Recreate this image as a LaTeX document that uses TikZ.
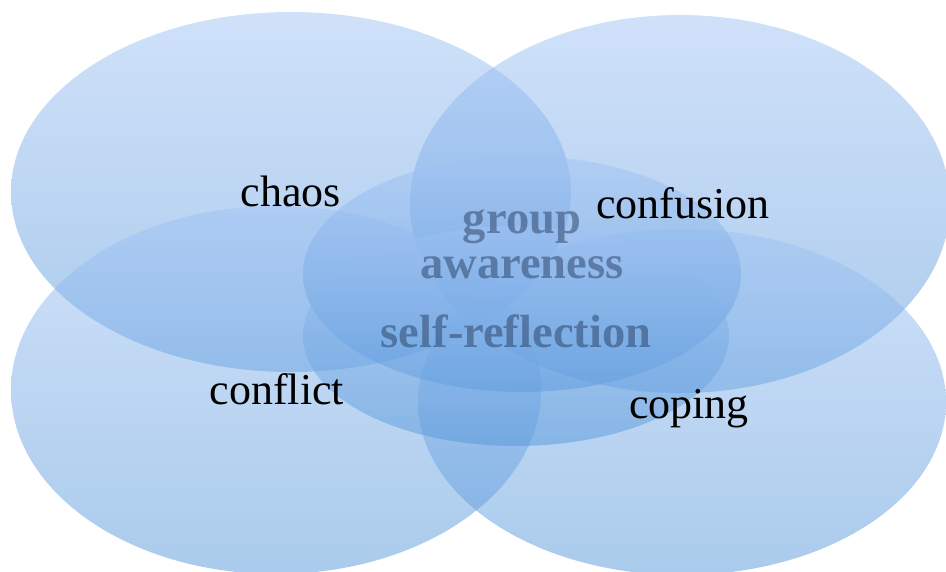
\documentclass[tikz,border=0pt]{standalone}
\usepackage{fontspec}
\setmainfont{Liberation Serif}
\definecolor{shtop}{RGB}{161,195,245}
\definecolor{shbot}{RGB}{85,151,217}
\definecolor{innertext}{RGB}{40,60,95}
\begin{document}
\begin{tikzpicture}[x=1pt,y=-1pt,
  bubble/.style={top color=shtop, bottom color=shbot, fill opacity=0.5, draw=none},
  outerlabel/.style={anchor=base, inner sep=0pt, font=\fontsize{44}{50}\selectfont, text=black},
  innerlabel/.style={anchor=base, inner sep=0pt, font=\fontsize{46.5}{52}\selectfont\bfseries, text=innertext, text opacity=0.5}]
\useasboundingbox (0,0) rectangle (946,572);
\clip (0,0) rectangle (946,572);
% four outer circles of the diagram
\shade[bubble] (291,192) ellipse [x radius=280, y radius=180];
\shade[bubble] (680,204) ellipse [x radius=270, y radius=189];
\shade[bubble] (276,390) ellipse [x radius=265, y radius=184];
\shade[bubble] (682,402) ellipse [x radius=264, y radius=173];
% two inner circles
\shade[bubble] (522,274) ellipse [x radius=219, y radius=118];
\shade[bubble] (516,336) ellipse [x radius=213, y radius=110];
% inner labels
\node[innerlabel] (grp) at (522,234) {group};
\node[innerlabel] (awr) at (522,279) {awareness};
\node[innerlabel] (slf) at (516,348) {self-reflection};
% outer labels
\node[outerlabel] (chaos) at (291,207) {chaos};
\node[outerlabel] (confusion) at (683,219) {confusion};
\node[outerlabel] (conflict) at (277,404) {conflict};
\node[outerlabel] (coping) at (689,418) {coping};
\end{tikzpicture}
\end{document}
